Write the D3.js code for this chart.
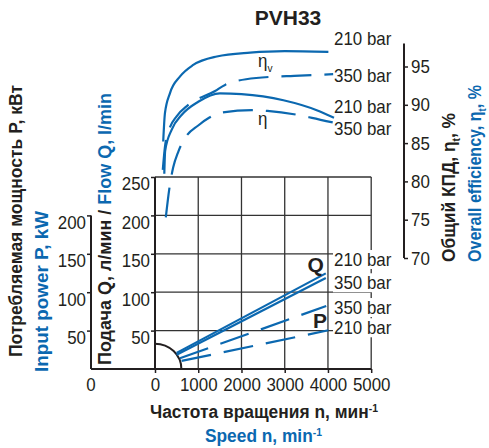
<!DOCTYPE html>
<html><head><meta charset="utf-8">
<script src="https://cdn.jsdelivr.net/npm/d3@7"></script>
<style>
body{margin:0;background:#fff}
text{font-family:"Liberation Sans",Arial,sans-serif}
</style></head><body><svg id="c" width="489" height="448"></svg>
<script>
// ---------- data ----------
const speedTicks = [0, 1000, 2000, 3000, 4000, 5000];
const flowTicks  = [50, 100, 150, 200, 250];
const powerTicks = [50, 100, 150, 200];
const effTicks   = [70, 75, 80, 85, 90, 95];

// efficiency curves: [speed rpm, efficiency %]
const etaV210 = [[190,85.2],[230,88.9],[345,91.5],[580,93.7],[885,95.2],[1430,96.3],[2200,96.8],[3000,97.0],[4010,96.9]];
const etaV350 = [[180,81.5],[230,84.5],[330,86.8],[500,88.5],[750,89.9],[1390,91.8],[1620,92.6],[2340,93.5],[3350,93.8],[4120,94.0]];
const eta210  = [[215,81.0],[235,84.0],[390,86.8],[620,88.7],[1000,90.4],[1500,91.5],[2000,91.4],[2970,90.6],[3740,89.3],[4140,88.3]];
const eta350  = [[250,75.3],[330,79.0],[420,81.8],[540,83.9],[700,85.7],[1000,87.3],[1250,88.3],[1550,89.0],[2240,89.3],[2600,89.2],[3280,88.7],[3630,88.3],[4110,87.7]];
// flow Q [speed, l/min]
const flow210 = [[500,21.0],[3950,124.5]];
const flow350 = [[500,18.5],[3950,118.5]];
// power P [speed, kW]
const power350 = [[575,14.0],[3960,82.0]];
const power210 = [[615,10.5],[4010,50.4]];
// minimum speed zone
const minSpeed = 610, minZoneFlow = 33;

// ---------- setup ----------
const BLUE = "#0b68b0", INK = "#231f20";
const svg = d3.select("#c");
const x  = d3.scaleLinear().domain([0, 5000]).range([155, 371.2]);
const yQ = d3.scaleLinear().domain([0, 250]).range([369, 177]);
const yP = d3.scaleLinear().domain([0, 200]).range([369, 369 - 200 * 0.768]);
const yE = d3.scaleLinear().domain([70, 98]).range([258, 258 - 28 * 7.66]);
const powerAxisX = 91, effAxisX = 404;
const FS = 19, SQUEEZE = 0.89;

function addParts(t, parts, size) {
  let cur = 0;
  parts.forEach(p => {
    const s = p[0], k = p[1], c = p[2];
    const target = k === "sup" ? -size * 0.34 : k === "sub" ? size * 0.28 : 0;
    const ts = t.append("tspan").text(s).attr("dy", target - cur);
    if (k) ts.attr("font-size", size * 0.6);
    if (c) ts.attr("fill", c);
    cur = target;
  });
  return t;
}
function squeeze(sel) {
  sel.each(function () {
    const len = this.getComputedTextLength();
    d3.select(this).attr("textLength", len * SQUEEZE).attr("lengthAdjust", "spacingAndGlyphs");
  });
}

// ---------- grid ----------
const grid = svg.append("g").attr("stroke", "#333").attr("stroke-width", 1.3);
grid.selectAll(".v").data(speedTicks.slice(1)).join("line")
  .attr("x1", d => x(d)).attr("x2", d => x(d)).attr("y1", yQ(0)).attr("y2", yQ(250));
grid.selectAll(".h").data(flowTicks).join("line")
  .attr("x1", x(0)).attr("x2", x(5000)).attr("y1", d => yQ(d)).attr("y2", d => yQ(d));

// ---------- labels with white boxes ----------
function boxLabel(px, py, parts, size) {
  const g = svg.append("g");
  const t = g.append("text").attr("x", px).attr("y", py).attr("font-size", size).attr("fill", INK);
  addParts(t, parts, size);
  squeeze(t);
  const b = t.node().getBBox();
  g.insert("rect", "text").attr("x", b.x - 1).attr("y", b.y + 1).attr("width", b.width + 2)
    .attr("height", b.height - 2).attr("fill", "#fff");
  return g;
}
const lx = x(4140);
boxLabel(lx, yQ(134.1), [["210 bar"]], FS);
boxLabel(lx, yQ(103.8), [["350 bar"]], FS);
boxLabel(lx, yP(71.6), [["350 bar"]], FS);
boxLabel(lx, yP(45.2), [["210 bar"]], FS);
boxLabel(lx, yE(97.81), [["210 bar"]], FS);
boxLabel(lx, yE(93.0), [["350 bar"]], FS);
boxLabel(lx, yE(88.9), [["210 bar"]], FS);
boxLabel(lx, yE(86.1), [["350 bar"]], FS);

// ---------- axes ----------
const fmt = d3.format("d");
const axX = svg.append("g").attr("transform", `translate(0,${yQ(0)})`)
  .call(d3.axisBottom(x).tickValues(speedTicks).tickFormat(fmt).tickSize(4).tickPadding(5).tickSizeOuter(0));
axX.select(".domain").remove();
svg.append("line").attr("x1", powerAxisX).attr("x2", x(5000)).attr("y1", yQ(0)).attr("y2", yQ(0))
  .attr("stroke", INK).attr("stroke-width", 2);

const axQ = svg.append("g").attr("transform", `translate(${x(0)},0)`)
  .call(d3.axisLeft(yQ).tickValues(flowTicks).tickFormat(fmt).tickSize(4).tickPadding(1).tickSizeOuter(0));
axQ.select(".domain").attr("d", `M0,${yQ(250)}V${yQ(0)}`);

const axP = svg.append("g").attr("transform", `translate(${powerAxisX},0)`)
  .call(d3.axisLeft(yP).tickValues(powerTicks).tickFormat(fmt).tickSize(4).tickPadding(1).tickSizeOuter(0));
axP.select(".domain").attr("d", `M0,${yP(200)}V${yP(0)}`);
const zeroP = svg.append("text").attr("x", powerAxisX).attr("y", yQ(0) + 9).attr("dy", "0.71em")
  .attr("text-anchor", "middle").attr("font-size", FS).attr("fill", INK).text("0");

const axE = svg.append("g").attr("transform", `translate(${effAxisX},0)`)
  .call(d3.axisRight(yE).tickValues(effTicks).tickFormat(fmt).tickSize(4).tickPadding(3).tickSizeOuter(0));
axE.select(".domain").attr("d", `M0,${yE(98)}V${yE(70)}`);

[axX, axQ, axP, axE].forEach(a => {
  a.attr("font-family", null).attr("font-size", null);
  a.selectAll("text").attr("font-size", FS).attr("fill", INK);
  a.selectAll("line").attr("stroke", INK).attr("stroke-width", 1.5);
  a.select(".domain").attr("stroke", INK).attr("stroke-width", 2);
  squeeze(a.selectAll("text"));
});
axQ.selectAll("text").attr("dy", "0.68em");
axP.selectAll("text").attr("dy", "0.68em");
squeeze(zeroP);

// ---------- min speed zone ----------
svg.append("path")
  .attr("d", `M${x(0)},${yQ(minZoneFlow)} A${x(minSpeed) - x(0)},${yQ(0) - yQ(minZoneFlow)} 0 0 1 ${x(minSpeed)},${yQ(0)}`)
  .attr("fill", "none").attr("stroke", INK).attr("stroke-width", 2);

// ---------- curves ----------
const lineE = d3.line().x(d => x(d[0])).y(d => yE(d[1])).curve(d3.curveMonotoneX);
const lineQ = d3.line().x(d => x(d[0])).y(d => yQ(d[1]));
const lineP = d3.line().x(d => x(d[0])).y(d => yP(d[1]));
const DASH = "30,13";
const curves = [
  [lineE(etaV210), null], [lineE(etaV350), DASH],
  [lineE(eta210), null], [lineE(eta350), DASH],
  [lineQ(flow210), null], [lineQ(flow350), null],
  [lineP(power350), DASH], [lineP(power210), DASH]
];
svg.append("g").selectAll("path").data(curves).join("path")
  .attr("d", d => d[0]).attr("fill", "none").attr("stroke", BLUE)
  .attr("stroke-width", 2.2).attr("stroke-dasharray", d => d[1]);

// ---------- curve names ----------
svg.append("text").attr("x", x(3713)).attr("y", yQ(126.7)).attr("text-anchor", "middle")
  .attr("font-size", 21).attr("font-weight", "bold").attr("fill", INK).text("Q");
svg.append("text").attr("x", x(3817)).attr("y", yP(53.4)).attr("text-anchor", "middle")
  .attr("font-size", 21).attr("font-weight", "bold").attr("fill", INK).text("P");
squeeze(addParts(svg.append("text").attr("x", x(2383)).attr("y", yE(95)).attr("font-size", FS).attr("fill", INK),
  [["η"], ["v", "sub"]], FS));
squeeze(addParts(svg.append("text").attr("x", x(2383)).attr("y", yE(87.4)).attr("font-size", FS).attr("fill", INK),
  [["η"]], FS));

// ---------- titles ----------
svg.append("text").attr("x", 288).attr("y", 25).attr("text-anchor", "middle")
  .attr("font-weight", "bold").attr("font-size", 21).attr("fill", INK).text("PVH33");

function title(px, py, rot, parts, size, len, color) {
  const t = svg.append("text").attr("transform", `translate(${px},${py}) rotate(${rot})`)
    .attr("text-anchor", "middle").attr("font-size", size).attr("font-weight", "bold")
    .attr("fill", color).attr("textLength", len).attr("lengthAdjust", "spacingAndGlyphs");
  addParts(t, parts, size);
}
title(264, 418, 0, [["Частота вращения n, мин"], ["-1", "sup"]], 18, 228, INK);
title(263.5, 442, 0, [["Speed n, min"], ["-1", "sup"]], 18, 117, BLUE);
title(21.5, 221, -90, [["Потребляемая мощность P, кВт"]], 18, 272, INK);
title(48, 291.5, -90, [["Input power P, kW"]], 18, 161, BLUE);
title(111, 229, -90, [["Подача Q, л/мин / "], ["Flow Q, l/min", null, BLUE]], 18, 272, INK);
title(455, 187.5, -90, [["Общий КПД, η"], ["t", "sub"], [", %"]], 18, 149, INK);
title(481, 173.5, -90, [["Overall efficiency, η"], ["t", "sub"], [", %"]], 18, 177, BLUE);
</script></body></html>
